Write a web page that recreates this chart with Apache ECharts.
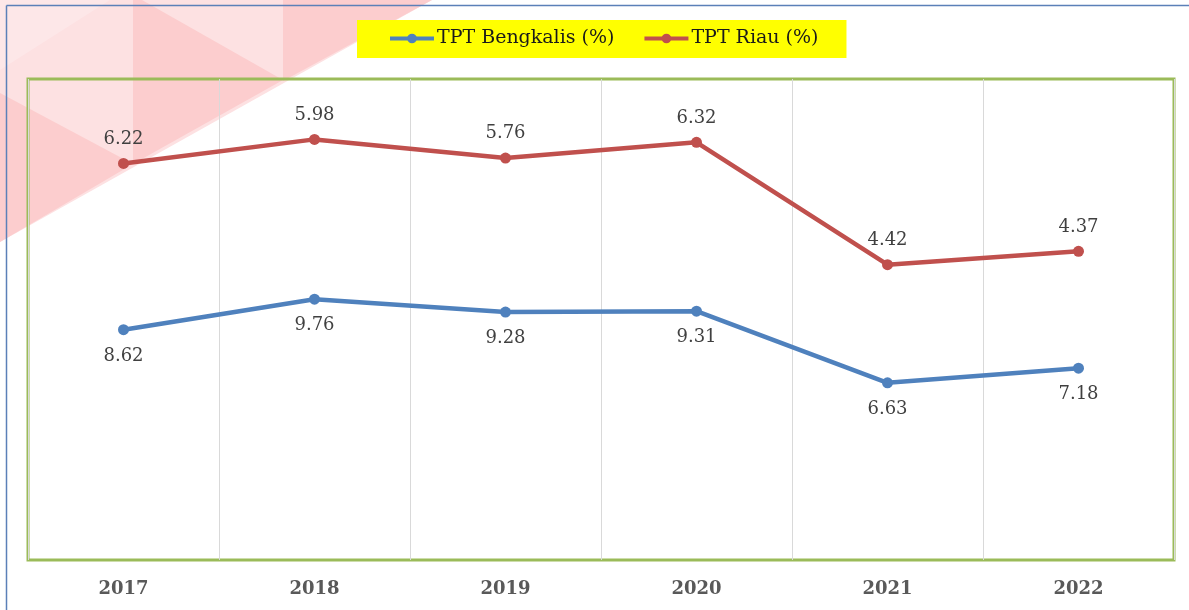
<!DOCTYPE html>
<html>
<head>
<meta charset="utf-8">
<script src="https://cdn.jsdelivr.net/npm/echarts@6/dist/echarts.min.js"></script>
<style>
html,body{margin:0;padding:0;background:#fff;}
#chart{width:1189px;height:610px;}
</style>
</head>
<body>
<div id="chart"></div>
<script>
// Data (lines are drawn stacked, as in the reference; labels show each series' own value)
var years = ['2017', '2018', '2019', '2020', '2021', '2022'];
var bengkalis = [8.62, 9.76, 9.28, 9.31, 6.63, 7.18];
var riau = [6.22, 5.98, 5.76, 6.32, 4.42, 4.37];
var seriesNames = ['TPT Bengkalis (%)', 'TPT Riau (%)'];

var chart = echarts.init(document.getElementById('chart'), null, {renderer: 'canvas'});
var serif = 'DejaVu Serif';

var option = {
  backgroundColor: '#ffffff',
  animation: false,
  graphic: [
    {type: 'polygon', z: -10, shape: {points: [[0,0],[432,0],[0,242]]}, style: {fill: '#FDE1E2'}},
    {type: 'polygon', z: -9, shape: {points: [[0,93],[133,164],[0,242]]}, style: {fill: '#FCCDCE'}},
    {type: 'polygon', z: -9, shape: {points: [[133,0],[142,0],[283,80],[133,164]]}, style: {fill: '#FCCDCE'}},
    {type: 'polygon', z: -9, shape: {points: [[283,0],[432,0],[283,81]]}, style: {fill: '#FCCDCE'}},
    {type: 'polygon', z: -9, shape: {points: [[0,0],[110,0],[0,70]]}, style: {fill: '#FDE7E8'}},
    {type: 'line', z: 5, shape: {x1: 6.5, y1: 5.5, x2: 1189, y2: 5.5}, style: {stroke: '#5B80B8', lineWidth: 1.5}},
    {type: 'line', z: 5, shape: {x1: 6.5, y1: 5.5, x2: 6.5, y2: 610}, style: {stroke: '#5B80B8', lineWidth: 1.5}}
  ],
  legend: {
    left: 357,
    top: 20,
    padding: [9, 28, 10, 31],
    backgroundColor: '#FFFF00',
    itemWidth: 44,
    itemHeight: 12,
    itemGap: 28,
    lineStyle: {width: 4},
    textStyle: {fontFamily: serif, fontSize: 19, color: '#1a1a1a', padding: [0,0,0,-2]},
    data: seriesNames
  },
  grid: {
    left: 28, right: 15, top: 79, bottom: 50,
    show: true,
    borderColor: '#9BBB59',
    borderWidth: 3,
    containLabel: false
  },
  xAxis: {
    type: 'category',
    data: years,
    boundaryGap: true,
    axisLine: {show: false},
    axisTick: {show: false},
    axisLabel: {fontFamily: serif, fontSize: 18, fontWeight: 'bold', color: '#595959', margin: 20},
    splitLine: {show: true, lineStyle: {color: '#D9D9D9', width: 1}}
  },
  yAxis: {
    type: 'value',
    min: 0, max: 18,
    show: false,
    splitLine: {show: false}
  },
  series: [
    {
      name: seriesNames[0],
      type: 'line',
      stack: 'total',
      data: bengkalis,
      symbol: 'circle',
      symbolSize: 11,
      lineStyle: {color: '#4F81BD', width: 4.5},
      itemStyle: {color: '#4F81BD'},
      label: {show: true, position: 'bottom', distance: 12, fontFamily: serif, fontSize: 18, color: '#404040'}
    },
    {
      name: seriesNames[1],
      type: 'line',
      stack: 'total',
      data: riau,
      symbol: 'circle',
      symbolSize: 11,
      lineStyle: {color: '#C0504D', width: 4.5},
      itemStyle: {color: '#C0504D'},
      label: {show: true, position: 'top', distance: 10, fontFamily: serif, fontSize: 18, color: '#404040'}
    }
  ]
};
chart.setOption(option);
</script>
</body>
</html>
